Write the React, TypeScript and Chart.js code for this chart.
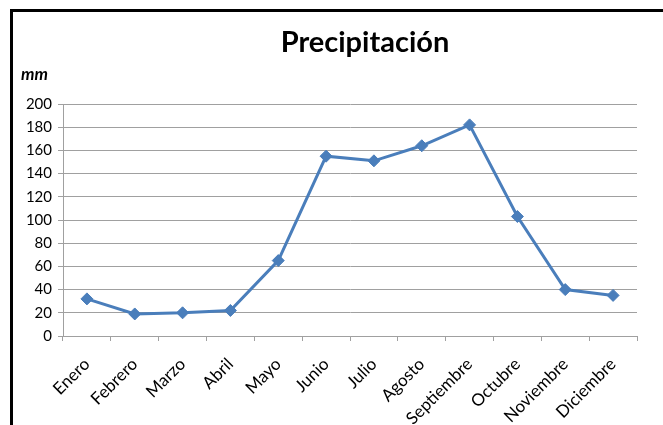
import React, { useEffect, useRef } from "react";
import { Chart, registerables } from "chart.js";

Chart.register(...registerables);

const months = [
  "Enero", "Febrero", "Marzo", "Abril", "Mayo", "Junio",
  "Julio", "Agosto", "Septiembre", "Octubre", "Noviembre", "Diciembre",
];
const rainfallMm = [32, 19, 20, 22, 65, 155, 151, 164, 182, 103, 40, 35];

const chartTitle = "Precipitación";
const unitLabel = "mm";

const LINE_BLUE = "#4A7EBB";
const GRID_GRAY = "#a0a0a0";
const FONT = "Lato, 'Open Sans', sans-serif";

// Frame along the top and left edges, the heading, and the unit label above the value axis.
const framePlugin = {
  id: "frameAndHeading",
  beforeDraw(chart: any) {
    const { ctx, width, height } = chart;
    ctx.save();
    ctx.fillStyle = "#ffffff";
    ctx.fillRect(0, 0, width, height);
    ctx.fillStyle = "#000000";
    ctx.fillRect(10, 9, width - 10, 3);
    ctx.fillRect(10, 9, 3, height - 9);
    ctx.restore();
  },
  afterDraw(chart: any) {
    const { ctx } = chart;
    ctx.save();
    ctx.fillStyle = "#000000";
    ctx.textBaseline = "alphabetic";

    ctx.font = `bold 29px ${FONT}`;
    ctx.textAlign = "center";
    ctx.fillText(chartTitle, 365, 52);

    ctx.font = `italic bold 17px ${FONT}`;
    ctx.textAlign = "left";
    ctx.fillText(unitLabel, 21, 80);
    ctx.restore();
  },
};

export default function App() {
  const canvasRef = useRef<HTMLCanvasElement | null>(null);

  useEffect(() => {
    document.body.style.margin = "0";
    const canvas = canvasRef.current;
    if (!canvas) return;
    const chart = new Chart(canvas, {
      type: "line",
      data: {
        labels: months,
        datasets: [
          {
            label: chartTitle,
            data: rainfallMm,
            borderColor: LINE_BLUE,
            backgroundColor: LINE_BLUE,
            borderWidth: 3,
            tension: 0,
            pointStyle: "rectRot",
            pointRadius: 6,
            pointBorderWidth: 1,
            pointBackgroundColor: LINE_BLUE,
            pointBorderColor: LINE_BLUE,
          },
        ],
      },
      options: {
        animation: false,
        responsive: false,
        maintainAspectRatio: false,
        layout: { padding: { left: 13, right: 93, top: 104, bottom: 0 } },
        plugins: {
          legend: { display: false },
          tooltip: { enabled: false },
          title: { display: false },
        },
        scales: {
          x: {
            offset: true,
            grid: {
              offset: true,
              drawOnChartArea: false,
              drawTicks: true,
              tickLength: 5,
              color: GRID_GRAY,
            },
            border: { display: true, color: GRID_GRAY, width: 1 },
            ticks: {
              color: "#000000",
              font: { family: FONT, size: 17 },
              minRotation: 45,
              maxRotation: 45,
              autoSkip: false,
              padding: 13,
            },
            afterFit(scale: any) {
              scale.height = 89;
            },
          },
          y: {
            min: 0,
            max: 200,
            ticks: {
              stepSize: 20,
              color: "#000000",
              font: { family: FONT, size: 15 },
              padding: 6,
            },
            grid: {
              color: GRID_GRAY,
              lineWidth: 1,
              drawTicks: true,
              tickLength: 5,
            },
            border: { display: true, color: GRID_GRAY, width: 1 },
            afterFit(scale: any) {
              scale.width = 50;
            },
          },
        },
      },
      plugins: [framePlugin],
    });
    return () => chart.destroy();
  }, []);

  return (
    <div
      style={{
        position: "fixed",
        left: 0,
        top: 0,
        width: 663,
        height: 425,
        overflow: "hidden",
        background: "#ffffff",
      }}
    >
      <canvas
        ref={canvasRef}
        width={730}
        height={425}
        style={{ display: "block", width: 730, height: 425 }}
      />
    </div>
  );
}
